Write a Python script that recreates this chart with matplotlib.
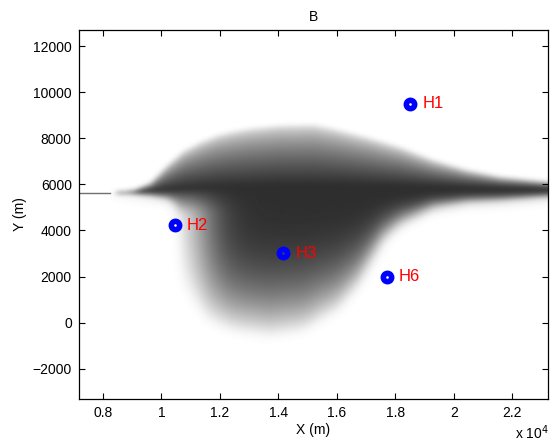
import matplotlib
matplotlib.use('Agg')
import matplotlib.pyplot as plt
import numpy as np

plt.rcParams['font.family'] = ['Liberation Sans', 'DejaVu Sans']

# plume envelope (m): upper edge, lower edge and darkest core line
x_upper = [8340, 9030, 9610, 10190, 10740, 11320, 11900, 12450, 13030, 14050,
           15180, 15870, 17030, 18160, 19290, 20450, 21580, 23220]
y_upper = [5620, 5710, 6060, 6840, 7450, 7840, 8140, 8310, 8440, 8570,
           8600, 8430, 8050, 7620, 7060, 6620, 6320, 6100]
x_lower = [8340, 9030, 9610, 10190, 10500, 10630, 10700, 11040, 11590, 12410, 13710,
           14840, 16000, 16690, 17130, 17580, 18160, 19290, 20450, 21580, 23220]
y_lower = [5580, 5540, 5450, 5280, 4890, 3580, 1630, 850, -20, -450, -670,
           -450, 420, 1420, 2410, 3450, 4150, 4890, 5150, 5230, 5410]
x_core = [8340, 10000, 12000, 14000, 16000, 18000, 20000, 23220]
y_core = [5620, 5750, 5880, 5970, 5970, 5930, 5880, 5800]

# release line upstream of the plume
source_x = [7170, 8240]
source_y = [5610, 5610]

# observation sites
sites = ['H1', 'H2', 'H3', 'H6']
site_x = [18500, 10450, 14150, 17700]
site_y = [9500, 4230, 3000, 1980]

xlim = (7170, 23210)
ylim = (-3314, 12716)


def blur(img, sigma):
    r = int(3 * sigma) + 1
    k = np.exp(-0.5 * (np.arange(-r, r + 1) / sigma) ** 2)
    k /= k.sum()
    p = np.pad(img, r, mode='edge')
    p = np.apply_along_axis(lambda v: np.convolve(v, k, mode='valid'), 1, p)
    p = np.apply_along_axis(lambda v: np.convolve(v, k, mode='valid'), 0, p)
    return p


# concentration-like shading on a pixel grid
nx, ny = 470, 370
xs = np.linspace(xlim[0], xlim[1], nx)
ys = np.linspace(ylim[0], ylim[1], ny)
X, Y = np.meshgrid(xs, ys)
dy = ys[1] - ys[0]
yup = np.interp(xs, x_upper, y_upper)[None, :]
ylo = np.interp(xs, x_lower, y_lower)[None, :]
yc = np.interp(xs, x_core, y_core)[None, :]

t_up = np.clip((Y - yc) / np.maximum(yup - yc, 1), 0, 1)
t_lo = np.clip((yc - Y) / np.maximum(yc - ylo, 1), 0, 1)
below = np.clip((yc - Y) / dy, 0, None)
w = np.clip(below / 25, 0, 1)

# southern lobe fades out gradually towards its western side
ramp = 1 / (1 + np.exp(-(X - 11380) / 420))
lower = (1 - t_lo ** 3) * ((1 - w) + w * ramp)
dens = np.where(Y >= yc, (1 - t_up) ** 0.55, lower)
dens[:, xs < x_upper[0]] = 0

dens = (1 - w) * blur(dens, 2.5) + w * blur(dens, 5.0)
shade = 1 - 0.82 * dens

fig = plt.figure(figsize=(5.55, 4.43), dpi=100)
ax = fig.add_axes([0.1418, 0.0993, 0.8450, 0.8341])

ax.imshow(shade, cmap='gray', vmin=0, vmax=1, origin='lower',
          extent=(xlim[0], xlim[1], ylim[0], ylim[1]), aspect='auto',
          interpolation='bilinear', zorder=1)
ax.plot(source_x, source_y, color='#707070', lw=1.0, zorder=2)

ax.plot(site_x, site_y, 'o', ms=6, mfc='none', mec='#0000ff', mew=4, zorder=4)
for name, sx, sy in zip(sites, site_x, site_y):
    ax.annotate(name, (sx, sy), xytext=(9, 0), textcoords='offset points',
                color='#ff0000', fontsize=12, va='center', ha='left', zorder=5)

ax.set_xlim(*xlim)
ax.set_ylim(*ylim)
ax.set_xticks(np.arange(8000, 22001, 2000))
ax.set_xticklabels(['%g' % (v / 1e4) for v in np.arange(8000, 22001, 2000)])
ax.set_yticks(np.arange(-2000, 12001, 2000))
ax.tick_params(direction='in', top=True, right=True, length=4, width=0.8,
               labelsize=10, pad=5)
for s in ax.spines.values():
    s.set_linewidth(0.9)

ax.set_title('B', fontsize=10, pad=6)
ax.set_xlabel('X (m)', fontsize=10, labelpad=2)
ax.set_ylabel('Y (m)', fontsize=10, labelpad=4)
fig.text(0.928, 0.008, r'x 10$^4$', fontsize=10, ha='left', va='baseline')

fig.savefig('out.png', dpi=100)
plt.close()
